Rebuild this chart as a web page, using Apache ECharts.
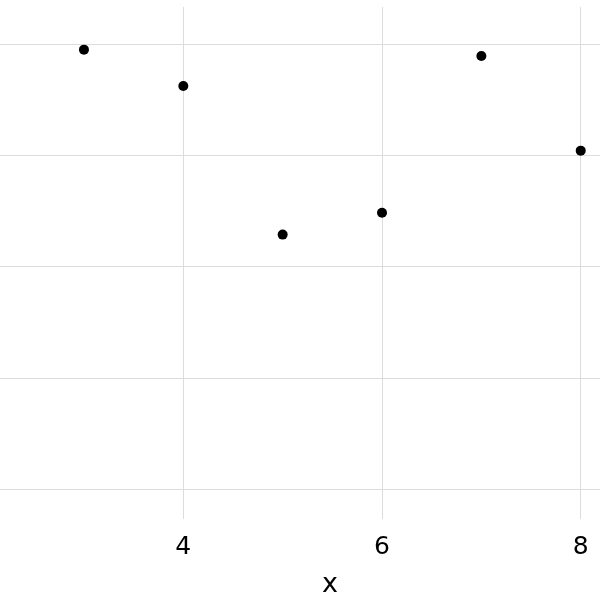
<!DOCTYPE html>
<html>
<head>
<meta charset="utf-8">
<script src="https://cdn.jsdelivr.net/npm/echarts@6/dist/echarts.min.js"></script>
<style>html,body{margin:0;padding:0;background:#fff}#c{width:600px;height:600px}</style>
</head>
<body>
<div id="c"></div>
<script>
var xValues = [3, 4, 5, 6, 7, 8];
var yValues = [4.948, 4.622, 3.287, 3.484, 4.891, 4.041];
var yGridValues = [1, 2, 3, 4, 5];
var xTicks = [4, 6, 8];

var chart = echarts.init(document.getElementById('c'), null, {renderer: 'canvas'});
var font = 'DejaVu Sans';
var gridColor = '#dcdcdc';
chart.setOption({
  animation: false,
  backgroundColor: '#ffffff',
  grid: {left: 0, right: 0, top: 7, bottom: 81, containLabel: false, outerBoundsMode: 'none'},
  xAxis: {
    type: 'value', min: 2.155, max: 8.194,
    name: 'x', nameLocation: 'middle', nameGap: 52,
    nameTextStyle: {fontFamily: font, fontSize: 27, color: '#000', padding: [0, 0, 0, 60]},
    axisLine: {show: false}, axisTick: {show: false},
    axisLabel: {fontFamily: font, fontSize: 25, color: '#000', margin: 16, customValues: xTicks,
      showMinLabel: true, showMaxLabel: true},
    splitLine: {show: false}
  },
  yAxis: {
    type: 'value', min: 0.733, max: 5.331,
    axisLine: {show: false}, axisTick: {show: false}, axisLabel: {show: false},
    splitLine: {show: false}
  },
  series: [{
    type: 'scatter',
    data: xValues.map(function (x, i) { return [x, yValues[i]]; }),
    symbolSize: 10,
    itemStyle: {color: '#000', opacity: 1},
    markLine: {
      silent: true, symbol: ['none', 'none'], label: {show: false},
      lineStyle: {color: gridColor, width: 1, type: 'solid'},
      data: yGridValues.map(function (v) { return {yAxis: v}; })
        .concat(xTicks.map(function (v) { return {xAxis: v}; }))
    },
    z: 5
  }]
});
</script>
</body>
</html>
